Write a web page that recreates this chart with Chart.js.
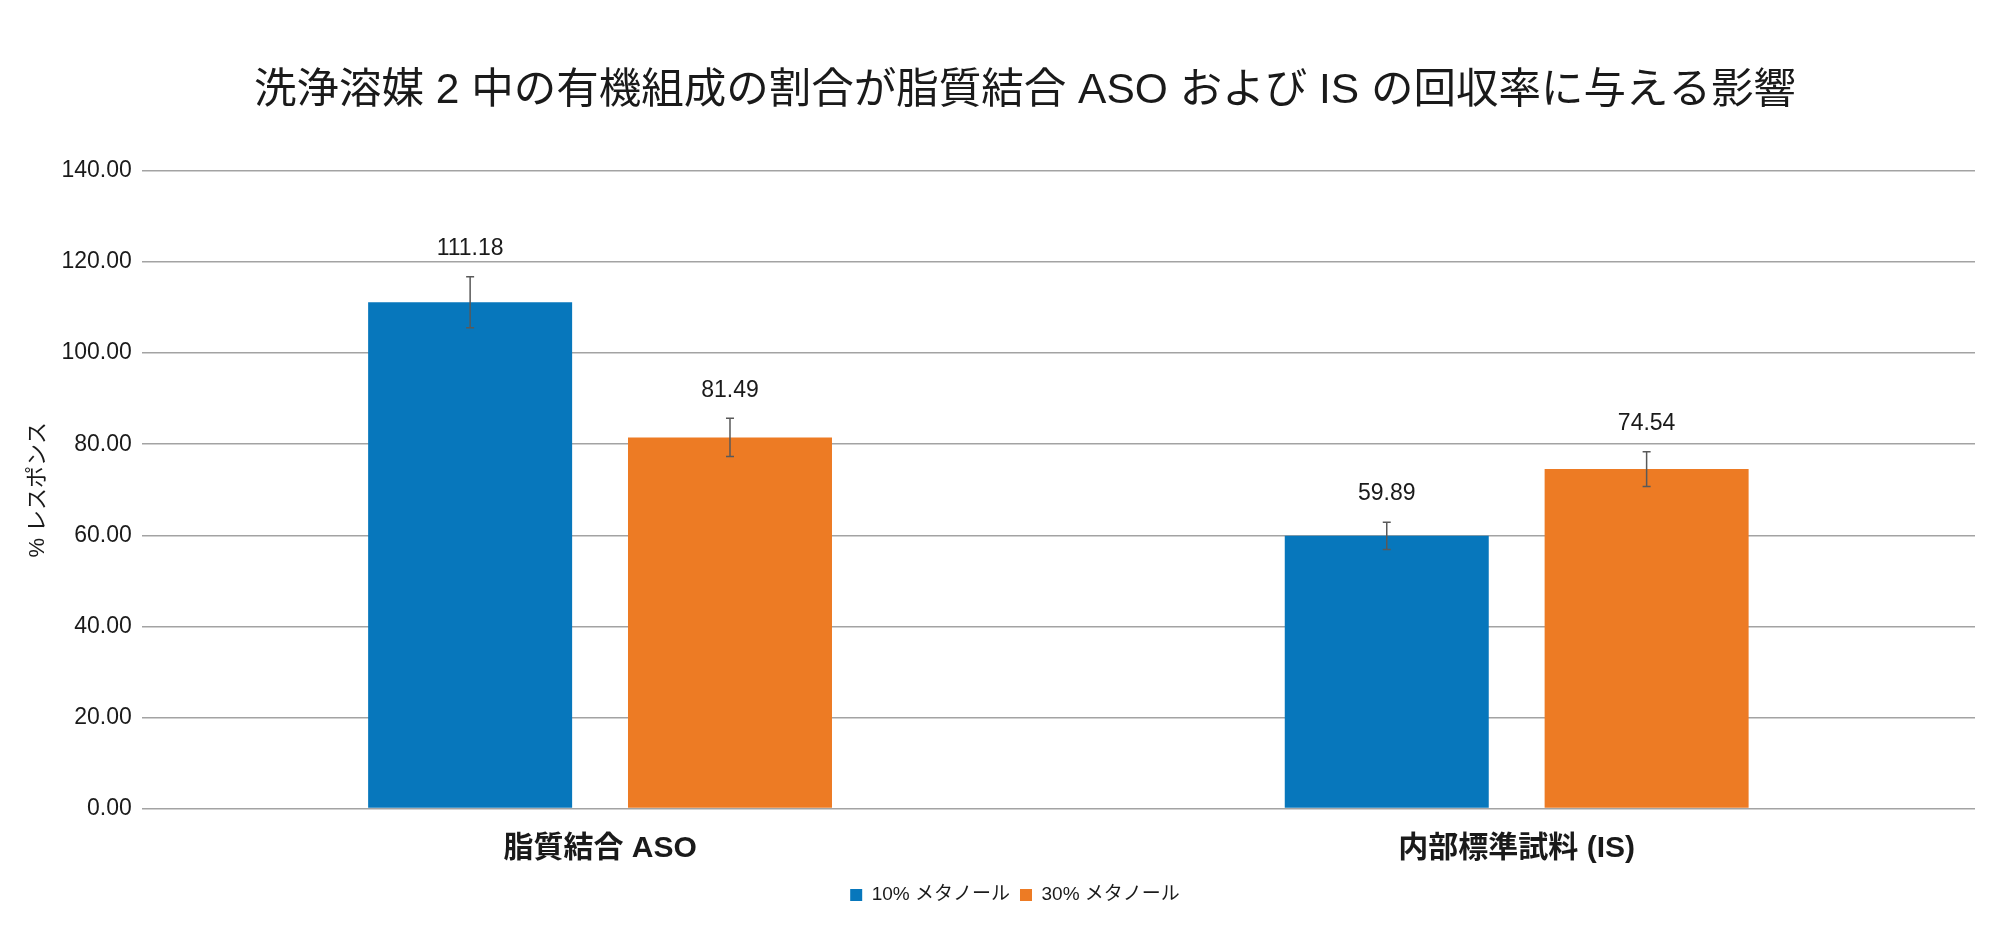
<!DOCTYPE html>
<html lang="ja">
  <head>
    <meta charset="UTF-8" />
    <title>洗浄溶媒 2 中の有機組成の割合</title>
    <style>
      html,
      body {
        margin: 0;
        padding: 0;
        background: #fff;
      }
      .wrap {
        width: 2000px;
        height: 931px;
      }
    </style>
  </head>
  <body>
    <div class="wrap">
      <canvas id="mychart"></canvas>
    </div>

    <script src="https://cdn.jsdelivr.net/npm/chart.js@4/dist/chart.umd.min.js"></script>
    <script>
      // データ
      const chartTitle = "洗浄溶媒 2 中の有機組成の割合が脂質結合 ASO および IS の回収率に与える影響";
      const categories = ["脂質結合 ASO", "内部標準試料 (IS)"];
      const seriesNames = ["10% メタノール", "30% メタノール"];
      const methanol10 = [111.18, 59.89];
      const methanol30 = [81.49, 74.54];
      const err10 = [5.6, 3.0];
      const err30 = [4.2, 3.8];
      const yTicks = [0, 20, 40, 60, 80, 100, 120, 140];

      const FONT = "'Liberation Sans', 'Noto Sans CJK JP', sans-serif";
      const TEXT = "#1a1a1a";

      // タイトル（少し右寄せで描く）、凡例も少し右へ
      const titlePlugin = {
        id: "topTitle",
        afterLayout(chart) {
          chart.legend.left += 20;
          chart.legend.right += 20;
        },
        afterDraw(chart) {
          const ctx = chart.ctx;
          ctx.save();
          ctx.fillStyle = TEXT;
          ctx.font = "42.5px " + FONT;
          ctx.textAlign = "center";
          ctx.textBaseline = "middle";
          ctx.fillText(chartTitle, 1025, 91);
          ctx.restore();
        },
      };

      // エラーバーと値ラベル
      const errorBarPlugin = {
        id: "errorBars",
        afterDatasetsDraw(chart) {
          const ctx = chart.ctx;
          const yScale = chart.scales.y;
          chart.data.datasets.forEach((ds, i) => {
            const meta = chart.getDatasetMeta(i);
            meta.data.forEach((bar, j) => {
              const v = ds.data[j];
              const e = ds.errors[j];
              const yTop = yScale.getPixelForValue(v + e);
              const yBot = yScale.getPixelForValue(v - e);
              const x = bar.x;
              ctx.save();
              ctx.strokeStyle = "#595959";
              ctx.lineWidth = 1.5;
              ctx.beginPath();
              ctx.moveTo(x, yTop);
              ctx.lineTo(x, yBot);
              ctx.moveTo(x - 4, yTop);
              ctx.lineTo(x + 4, yTop);
              ctx.moveTo(x - 4, yBot);
              ctx.lineTo(x + 4, yBot);
              ctx.stroke();

              ctx.fillStyle = TEXT;
              ctx.font = "23px " + FONT;
              ctx.textAlign = "center";
              ctx.textBaseline = "middle";
              ctx.fillText(v.toFixed(2), x, yTop - 28);
              ctx.restore();
            });
          });
        },
      };

      const mychart = document.getElementById("mychart");

      new Chart(mychart, {
        type: "bar",
        data: {
          labels: categories,
          datasets: [
            {
              label: seriesNames[0],
              data: methanol10,
              errors: err10,
              backgroundColor: "#0777bc",
              borderWidth: 0,
            },
            {
              label: seriesNames[1],
              data: methanol30,
              errors: err30,
              backgroundColor: "#ed7b24",
              borderWidth: 0,
            },
          ],
        },
        options: {
          responsive: true,
          maintainAspectRatio: false,
          animation: false,
          categoryPercentage: 0.567,
          barPercentage: 0.785,
          layout: {
            padding: { left: 15, right: 25, top: 171, bottom: 16.5 },
          },
          plugins: {
            title: { display: false },
            legend: {
              position: "bottom",
              labels: {
                color: TEXT,
                font: { family: FONT, size: 19 },
                boxWidth: 12,
                boxHeight: 12,
                padding: 10,
              },
            },
            tooltip: { enabled: false },
          },
          scales: {
            x: {
              grid: { display: false, drawTicks: false },
              border: { display: false },
              afterFit: (scale) => {
                scale.height = 67;
              },
              ticks: {
                color: TEXT,
                padding: 22,
                font: { family: FONT, size: 30, weight: "bold", lineHeight: 1.23 },
              },
            },
            y: {
              min: 0,
              max: 140,
              afterBuildTicks: (scale) => {
                scale.ticks = yTicks.map((v) => ({ value: v }));
              },
              grid: { color: "#a3a3a3", lineWidth: 1.5, drawTicks: false },
              border: { display: false },
              ticks: {
                color: TEXT,
                padding: 10,
                font: { family: FONT, size: 23 },
                callback: (v) => Number(v).toFixed(2),
              },
              title: {
                display: true,
                text: "% レスポンス",
                color: TEXT,
                font: { family: FONT, size: 22 },
                padding: { top: 10, bottom: 0 },
              },
            },
          },
        },
        plugins: [errorBarPlugin, titlePlugin],
      });
    </script>
  </body>
</html>
